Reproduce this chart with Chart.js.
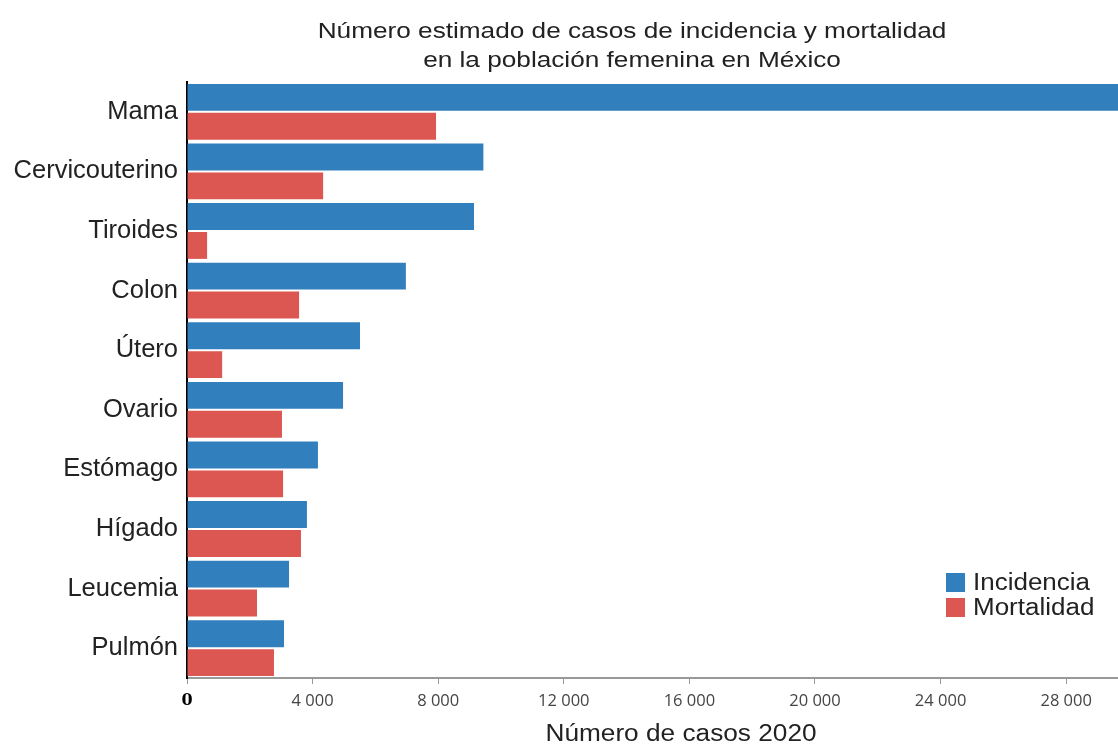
<!DOCTYPE html>
<html>
<head>
<meta charset="utf-8">
<script src="https://cdn.jsdelivr.net/npm/chart.js@4/dist/chart.umd.min.js"></script>
<style>
html,body{margin:0;padding:0;background:#fff;}
#wrap{width:1118px;height:744px;position:relative;}
</style>
</head>
<body>
<div id="wrap"><canvas id="c" width="1118" height="744"></canvas></div>
<script>
const categories = ["Mama","Cervicouterino","Tiroides","Colon","Útero","Ovario","Estómago","Hígado","Leucemia","Pulmón"];
const incidencia = [29929, 9439, 9140, 6970, 5510, 4970, 4170, 3820, 3250, 3090];
const mortalidad = [7931, 4335, 640, 3570, 1120, 3025, 3060, 3630, 2230, 2770];
const seriesNames = ["Incidencia","Mortalidad"];
const titleLines = ["Número estimado de casos de incidencia y mortalidad","en la población femenina en México"];
const xTitle = "Número de casos 2020";
const tickValues = [0, 4000, 8000, 12000, 16000, 20000, 24000, 28000];
const xMax = 29650;

const BLUE = "rgb(50,127,190)";
const RED = "rgb(221,87,82)";

function fmt(v){ return String(v).replace(/\B(?=(\d{3})+(?!\d))/g, " "); }

function stretchText(ctx, text, x, y, sx, align){
  ctx.save();
  ctx.translate(x, y);
  ctx.scale(sx, 1);
  ctx.textAlign = align;
  ctx.fillText(text, 0, 0);
  ctx.restore();
}

const textPlugin = {
  id: "texts",
  afterDraw(chart){
    const ctx = chart.ctx;
    ctx.save();
    ctx.fillStyle = "#222";
    ctx.textBaseline = "alphabetic";
    ctx.font = "22px 'Liberation Sans', Arial, sans-serif";
    stretchText(ctx, titleLines[0], 632, 38, 1.19, "center");
    stretchText(ctx, titleLines[1], 632, 67, 1.19, "center");
    ctx.font = "23px 'Liberation Sans', Arial, sans-serif";
    stretchText(ctx, xTitle, 681, 741, 1.14, "center");
    // legend
    const colors = [BLUE, RED];
    ctx.font = "23px 'Liberation Sans', Arial, sans-serif";
    for (let i = 0; i < 2; i++) {
      const y = 573 + i * 25;
      ctx.fillStyle = colors[i];
      ctx.fillRect(946, y, 19, 19);
      ctx.fillStyle = "#222";
      stretchText(ctx, seriesNames[i], 973, y + 17, 1.13, "left");
    }
    ctx.restore();
  }
};

new Chart(document.getElementById("c"), {
  type: "bar",
  data: {
    labels: categories,
    datasets: [
      {label: seriesNames[0], data: incidencia, backgroundColor: BLUE, categoryPercentage: 0.97, barPercentage: 0.93},
      {label: seriesNames[1], data: mortalidad, backgroundColor: RED, categoryPercentage: 0.97, barPercentage: 0.93}
    ]
  },
  options: {
    indexAxis: "y",
    responsive: false,
    animation: false,
    layout: {padding: {top: 82, right: 0, bottom: 0, left: 0}},
    plugins: {legend: {display: false}, title: {display: false}, tooltip: {enabled: false}},
    scales: {
      x: {
        min: 0, max: xMax,
        afterBuildTicks: (s) => { s.ticks = tickValues.map(v => ({value: v})); },
        grid: {display: true, drawOnChartArea: false, drawTicks: true, tickLength: 6, color: "#999", lineWidth: 1},
        border: {display: true, color: "#999", width: 2},
        ticks: {
          padding: 7, maxRotation: 0, autoSkip: false,
          color: (c) => c.tick && c.tick.value === 0 ? "#000" : "#444",
          font: (c) => c.tick && c.tick.value === 0
            ? {family: "'DejaVu Serif', serif", size: 16, weight: "bold"}
            : {family: "'Open Sans', sans-serif", size: 16.5},
          callback: (v) => fmt(v)
        },
        afterFit: (s) => { s.height = 66; }
      },
      y: {
        grid: {display: true, drawOnChartArea: false, drawTicks: false, color: "transparent"},
        border: {display: true, color: "#000", width: 2},
        ticks: {color: "#222", padding: 9, font: {family: "'Liberation Sans', Arial, sans-serif", size: 25.5}},
        afterFit: (s) => { s.width = 187; }
      }
    }
  },
  plugins: [textPlugin]
});
</script>
</body>
</html>
